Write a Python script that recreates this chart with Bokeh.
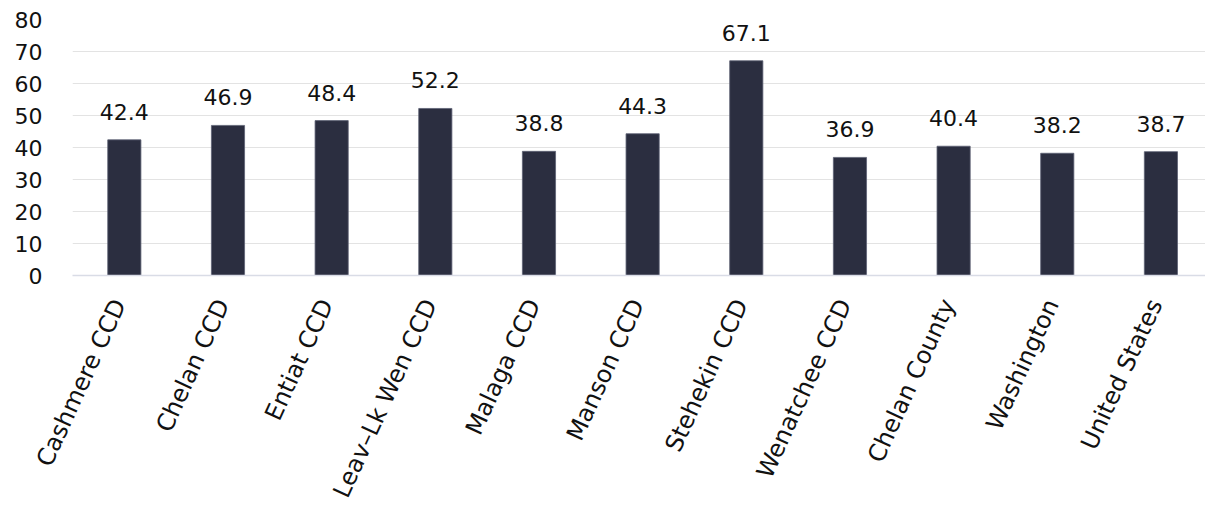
from bokeh.plotting import figure
from bokeh.models import ColumnDataSource, LabelSet, Range1d, FixedTicker
from bokeh.core.properties import value
from bokeh.embed import file_html
from bokeh.resources import INLINE

# Median age by area
areas = ["Cashmere CCD", "Chelan CCD", "Entiat CCD", "Leav\u2013Lk Wen CCD", "Malaga CCD",
         "Manson CCD", "Stehekin CCD", "Wenatchee CCD", "Chelan County", "Washington",
         "United States"]
median_age = [42.4, 46.9, 48.4, 52.2, 38.8, 44.3, 67.1, 36.9, 40.4, 38.2, 38.7]
y_ticks = [0, 10, 20, 30, 40, 50, 60, 70, 80]

positions = list(range(len(areas)))
labels_txt = [f"{v:.1f}" for v in median_age]
src = ColumnDataSource(dict(x=positions, top=median_age, label=labels_txt))

FONT = "DejaVu Sans"
BAR = "#2b2e40"
INK = "#111111"

p = figure(width=1205, height=515, output_backend="svg", toolbar_location=None,
           x_range=Range1d(-0.5, 10.43), y_range=Range1d(0, 80))
p.min_border_left = 72
p.min_border_right = 0
p.min_border_top = 19
p.min_border_bottom = 240
p.outline_line_color = None
p.background_fill_color = "white"
p.border_fill_color = "white"

p.vbar(x="x", top="top", bottom=0, width=0.32, source=src,
       fill_color=BAR, line_color="#5d6173", line_width=0.8)

# value labels above the bars
values = LabelSet(x="x", y="top", text="label", source=src, y_offset=20,
                  text_align="center", text_baseline="alphabetic",
                  text_font=value(FONT), text_font_size=value("22px"),
                  text_color=value(INK))
p.add_layout(values)

# y axis: labels only
p.yaxis.ticker = FixedTicker(ticks=y_ticks)
p.yaxis.axis_line_color = None
p.yaxis.major_tick_line_color = None
p.yaxis.minor_tick_line_color = None
p.yaxis.major_tick_out = 0
p.yaxis.major_label_standoff = 30
p.yaxis.major_label_text_font = FONT
p.yaxis.major_label_text_font_size = "22px"
p.yaxis.major_label_text_color = INK

# x axis: slanted category names; the (hidden) ticks sit slightly left of each
# bar so the end of each rotated name lands just under the bar's centre
name_ticks = [i - 0.05 for i in positions]
p.xaxis.ticker = FixedTicker(ticks=name_ticks)
p.xaxis.major_label_overrides = {t: name for t, name in zip(name_ticks, areas)}
p.xaxis.major_label_orientation = 1.14
p.xaxis.axis_line_color = "#d9dce6"
p.xaxis.axis_line_width = 1.5
p.xaxis.major_tick_line_color = None
p.xaxis.minor_tick_line_color = None
p.xaxis.major_tick_out = 0
p.xaxis.major_label_standoff = 25
p.xaxis.major_label_text_font = FONT
p.xaxis.major_label_text_font_size = "24px"
p.xaxis.major_label_text_color = INK

p.xgrid.grid_line_color = None
p.ygrid.ticker = FixedTicker(ticks=y_ticks[1:])
p.ygrid.grid_line_color = "#e3e3e3"
p.ygrid.grid_line_width = 1.2

open("out.html", "w").write(file_html(p, INLINE))
